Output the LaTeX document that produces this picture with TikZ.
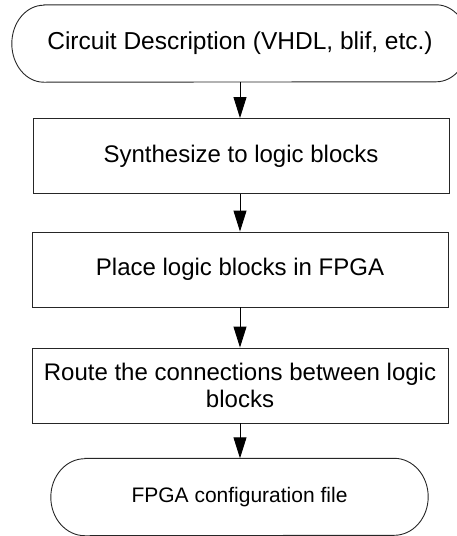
\documentclass[tikz,border=0pt]{standalone}
\usepackage{fontspec}
\setmainfont{Liberation Sans}
\usetikzlibrary{arrows.meta}
\begin{document}
\begin{tikzpicture}[x=1pt,y=-1pt,
  stepbox/.style={draw=black!85,line width=0.9pt,minimum width=416pt,minimum height=75pt,
    inner sep=0pt,align=center,font=\fontsize{24}{27.5}\selectfont},
  termbox/.style={draw=none,minimum height=77pt,inner sep=0pt,align=center},
  termline/.style={draw=black!85,line width=0.9pt},
  flow/.style={draw=black,line width=0.9pt,-{Triangle[length=21pt,width=13pt]}}]
\useasboundingbox (0,0) rectangle (457,536);
\clip (0,0) rectangle (457,536);

% start terminal
\node[termbox,minimum width=456pt,font=\fontsize{24.5}{28}\selectfont] (start) at (240,43.5)
  {Circuit Description (VHDL, blif, etc.)};
\draw[termline] ([xshift=32pt]start.north west) -- ([xshift=-32pt]start.north east)
  arc[start angle=90,end angle=-90,x radius=32pt,y radius=38.5pt]
  -- ([xshift=32pt]start.south west)
  arc[start angle=270,end angle=90,x radius=32pt,y radius=38.5pt] -- cycle;

% processing steps
\node[stepbox] (synth) at (241,156) {Synthesize to logic blocks};
\node[stepbox] (place) at (240,269.5) {Place logic blocks in FPGA};
\node[stepbox] (route) at (240,385.5) {Route the connections between logic\\blocks};

% end terminal
\node[termbox,minimum width=377pt,font=\fontsize{21}{24}\selectfont] (final) at (239.5,497)
  {FPGA configuration file};
\draw[termline] ([xshift=34pt]final.north west) -- ([xshift=-34pt]final.north east)
  arc[start angle=90,end angle=-90,x radius=34pt,y radius=38.5pt]
  -- ([xshift=34pt]final.south west)
  arc[start angle=270,end angle=90,x radius=34pt,y radius=38.5pt] -- cycle;

% connectors
\draw[flow] (start.south) -- (synth.north -| start.south);
\draw[flow] (synth.south -| start.south) -- (place.north -| start.south);
\draw[flow] (place.south -| start.south) -- (route.north -| start.south);
\draw[flow] (route.south -| start.south) -- (final.north -| start.south);
\end{tikzpicture}
\end{document}
